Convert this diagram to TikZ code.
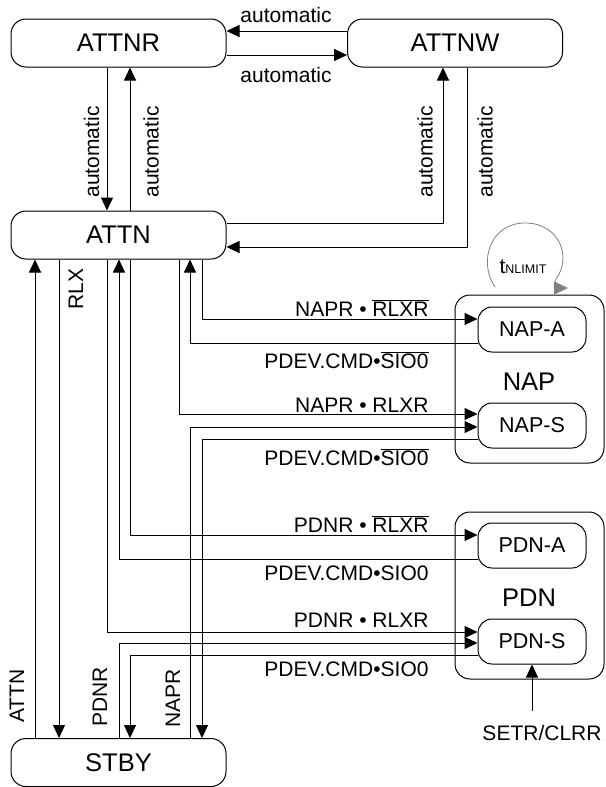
\documentclass[tikz,border=0pt]{standalone}
\usepackage{fontspec}
\setmainfont{Liberation Sans}
\usepackage{tikz}
\usetikzlibrary{positioning,arrows.meta}

\begin{document}
\begin{tikzpicture}[x=1pt,y=-1pt,line width=1pt,>={Triangle[length=13pt,width=12pt]},
  font=\fontsize{21}{25}\selectfont,
  st/.style={draw,rounded corners=15pt,minimum width=215pt,minimum height=48pt,font=\fontsize{25.5}{30}\selectfont},
  sub/.style={draw,rounded corners=14pt,minimum width=108pt,minimum height=45pt,font=\fontsize{21.5}{25}\selectfont},
  grp/.style={draw,rounded corners=15pt,minimum width=149pt,minimum height=168pt},
  lbl/.style={inner sep=0pt},
  vlbl/.style={inner sep=0pt,rotate=90}]
\useasboundingbox (0,0) rectangle (605,787);
\node[st] (ATTNR) at (118.5,43) {ATTNR}; \node[st,minimum width=215pt] (ATTNW) at (455,43) {ATTNW};
\node[st] (ATTN) at (118.5,235) {ATTN}; \node[st] (STBY) at (118.5,762.5) {STBY};
\node[grp] (NAP) at (529.5,379) {}; \node[grp,minimum height=167pt] (PDN) at (529.5,595.5) {};
\node[lbl,font=\fontsize{25.5}{30}\selectfont] (NAPl) at (529,382) {NAP};
\node[lbl,font=\fontsize{25.5}{30}\selectfont] (PDNl) at (529,598) {PDN};
\node[sub] (NAPA) at (532,329.5) {NAP-A}; \node[sub] (NAPS) at (532,425.5) {NAP-S};
\node[sub] (PDNA) at (532,545.5) {PDN-A}; \node[sub] (PDNS) at (532,641.5) {PDN-S};
\foreach \n/\x in {1/35,2/59,3/107,4/119,5/130,6/179,7/190,8/202} \coordinate (ln\n) at (\x,0);
\coordinate (lw1) at (443,0); \coordinate (lw2) at (467,0);
\draw[->] (ATTNW.west |- 0,31) -- (ATTNR.east |- 0,31);
\draw[->] (ATTNR.east |- 0,55) -- (ATTNW.west |- 0,55);
\node[lbl] (au1) at (286,15) {automatic}; \node[lbl] (au2) at (286,75) {automatic};
\draw[->] (ATTNR.south -| ln3) -- (ATTN.north -| ln3);
\draw[->] (ATTN.north -| ln5) -- (ATTNR.south -| ln5);
\draw[->] (ATTN.east |- 0,223) -| (ATTNW.south -| lw1);
\draw[->] (ATTNW.south -| lw2) |- (ATTN.east |- 0,247);
\node[vlbl] (au3) at (91.5,152) {automatic}; \node[vlbl] (au4) at (151,152) {automatic};
\node[vlbl] (au5) at (425,152) {automatic}; \node[vlbl] (au6) at (485,152) {automatic};
\draw[->] (STBY.north -| ln1) -- (ATTN.south -| ln1);
\draw[->] (ATTN.south -| ln2) -- (STBY.north -| ln2);
\node[vlbl] (rlx) at (76,289) {RLX};
\node[vlbl] (vattn) at (17,696) {ATTN}; \node[vlbl] (vpdnr) at (100,697) {PDNR}; \node[vlbl] (vnapr) at (173,698) {NAPR};
\draw[->] (ATTN.south -| ln8) |- (NAPA.west |- 0,319);
\draw[->] (NAPA.west |- 0,343) -| (ATTN.south -| ln7);
\draw[->] (ATTN.south -| ln6) |- (NAPS.west |- 0,414);
\draw[->] (STBY.north -| ln7) |- (NAPS.west |- 0,427);
\draw[->] (NAPS.west |- 0,439) -| (STBY.north -| ln8);
\draw[->] (ATTN.south -| ln5) |- (PDNA.west |- 0,535);
\draw[->] (PDNA.west |- 0,559) -| (ATTN.south -| ln4);
\draw[->] (ATTN.south -| ln3) |- (PDNS.west |- 0,632);
\draw[->] (STBY.north -| ln4) |- (PDNS.west |- 0,643);
\draw[->] (PDNS.west |- 0,655) -| (STBY.north -| ln5);
\node[lbl,anchor=base east] (c1) at (429,316) {NAPR • $\overline{\mbox{RLXR}}$};
\node[lbl,anchor=base east] (c2) at (429,368) {PDEV.CMD•$\overline{\mbox{SIO0}}$};
\node[lbl,anchor=base east] (c3) at (429,412) {NAPR • RLXR};
\node[lbl,anchor=base east] (c4) at (429,465) {PDEV.CMD•$\overline{\mbox{SIO0}}$};
\node[lbl,anchor=base east] (c5) at (429,532) {PDNR • $\overline{\mbox{RLXR}}$};
\node[lbl,anchor=base east] (c6) at (429,580) {PDEV.CMD•SIO0};
\node[lbl,anchor=base east] (c7) at (429,627) {PDNR • RLXR};
\node[lbl,anchor=base east] (c8) at (429,676) {PDEV.CMD•SIO0};
\draw[gray,line width=0.8pt,-{Triangle[length=14pt,width=13pt]}] (495,287) .. controls (478,262) and (490,223) .. (525,223)
  .. controls (560,223) and (572,258) .. (556,279) .. controls (553,284) and (555,288) .. (568,288);
\node[lbl,anchor=base] (tlim) at (523,273) {t{\fontsize{12.5}{14}\selectfont NLIMIT}};
\node[lbl] (setclr) at (542,733) {SETR/CLRR};
\draw[->,shorten <=14pt] (setclr.north -| PDNS.south) -- (PDNS.south);
\end{tikzpicture}
\end{document}
